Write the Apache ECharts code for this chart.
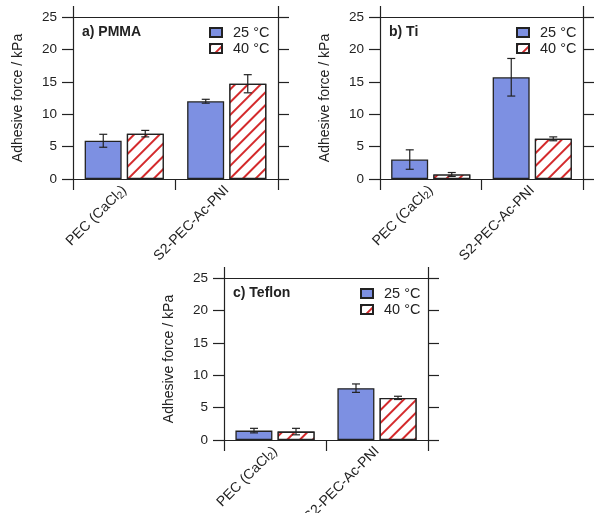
<!DOCTYPE html>
<html>
<head>
<meta charset="utf-8">
<script src="https://cdn.jsdelivr.net/npm/echarts@6/dist/echarts.min.js"></script>
<style>
  html, body { margin: 0; padding: 0; background: #fff; }
  #chart { width: 599px; height: 513px; }
</style>
</head>
<body>
<div id="chart"></div>
<script>
// categories + data
const categories = ["PEC (CaCl{sub|2})", "S2-PEC-Ac-PNI"];
const panelTitles = ["a) PMMA", "b) Ti", "c) Teflon"];
const seriesNames = ["25 °C", "40 °C"];
const yTicks = [0, 5, 10, 15, 20, 25];

// values per panel [PEC, S2]
const pmma25 = [5.9, 12.0];
const pmma25Err = [1.0, 0.3];
const pmma40 = [7.0, 14.7];
const pmma40Err = [0.5, 1.4];

const ti25 = [3.0, 15.7];
const ti25Err = [1.5, 2.9];
const ti40 = [0.7, 6.2];
const ti40Err = [0.3, 0.3];

const teflon25 = [1.45, 8.0];
const teflon25Err = [0.35, 0.65];
const teflon40 = [1.3, 6.5];
const teflon40Err = [0.5, 0.25];

const panels = [
  { v25: pmma25, e25: pmma25Err, v40: pmma40, e40: pmma40Err, grid: { left: 73, top: 17, width: 205, height: 162 } },
  { v25: ti25, e25: ti25Err, v40: ti40, e40: ti40Err, grid: { left: 380, top: 17, width: 203, height: 162 } },
  { v25: teflon25, e25: teflon25Err, v40: teflon40, e40: teflon40Err, grid: { left: 224, top: 278, width: 204, height: 162 } }
];

const BLUE = "#7d90e2";
const RED = "#d42a2c";
const INK = "#222";
const FONT = "Liberation Sans, Arial, sans-serif";
const BAR_W = 37;
const SHIFT = 21;   // half of bar width + gap

const hatch = {
  symbol: "rect",
  symbolSize: 1,
  dashArrayX: [1, 0],
  dashArrayY: [2, 7],
  rotation: -Math.PI / 4,
  color: RED,
  backgroundColor: "#fff"
};

const chart = echarts.init(document.getElementById("chart"), null, { renderer: "canvas" });

function errSeries(name, gi, vals, errs, dx) {
  return {
    type: "custom",
    name: name + " err",
    xAxisIndex: gi * 2,
    yAxisIndex: gi * 2,
    z: 5,
    silent: true,
    data: vals.map((v, i) => [i, v - errs[i], v + errs[i]]),
    encode: { x: 0, y: [1, 2] },
    renderItem: (params, api) => {
      const lo = api.coord([api.value(0), api.value(1)]);
      const hi = api.coord([api.value(0), api.value(2)]);
      const x = lo[0] + dx;
      const cap = 4;
      const st = { stroke: INK, lineWidth: 1.2 };
      return {
        type: "group",
        children: [
          { type: "line", shape: { x1: x, y1: lo[1], x2: x, y2: hi[1] }, style: st },
          { type: "line", shape: { x1: x - cap, y1: lo[1], x2: x + cap, y2: lo[1] }, style: st },
          { type: "line", shape: { x1: x - cap, y1: hi[1], x2: x + cap, y2: hi[1] }, style: st }
        ]
      };
    }
  };
}

const grid = [], xAxis = [], yAxis = [], series = [], legend = [], title = [];

panels.forEach((p, gi) => {
  grid.push(Object.assign({ containLabel: false, outerBoundsMode: "none" }, p.grid));

  const tickStyle = { show: true, inside: false, length: 11, lineStyle: { color: INK, width: 1.2 } };
  const lineStyle = { show: true, onZero: false, lineStyle: { color: INK, width: 1.2 } };

  xAxis.push({
    type: "category", gridIndex: gi, data: categories, position: "bottom",
    boundaryGap: true,
    axisLine: lineStyle, axisTick: tickStyle,
    axisLabel: {
      interval: 0, rotate: 45, margin: 9, color: INK, fontFamily: FONT, fontSize: 14,
      rich: { sub: { fontSize: 10, fontFamily: FONT, color: INK, verticalAlign: "bottom", padding: [6, 0, 0, 0] } }
    }
  });
  xAxis.push({
    type: "category", gridIndex: gi, data: categories, position: "top",
    boundaryGap: true,
    axisLine: lineStyle, axisTick: tickStyle, axisLabel: { show: false }
  });

  yAxis.push({
    type: "value", gridIndex: gi, min: yTicks[0], max: yTicks[yTicks.length - 1], interval: 5,
    position: "left",
    name: "Adhesive force / kPa", nameLocation: "middle", nameGap: 48,
    nameTextStyle: { color: INK, fontFamily: FONT, fontSize: 14 },
    axisLine: lineStyle, axisTick: tickStyle, splitLine: { show: false },
    axisLabel: { margin: 16, color: INK, fontFamily: FONT, fontSize: 13.5 }
  });
  yAxis.push({
    type: "value", gridIndex: gi, min: yTicks[0], max: yTicks[yTicks.length - 1], interval: 5,
    position: "right",
    axisLine: lineStyle, axisTick: tickStyle, splitLine: { show: false },
    axisLabel: { show: false }
  });

  series.push({
    type: "bar", name: seriesNames[0], xAxisIndex: gi * 2, yAxisIndex: gi * 2,
    data: p.v25, barWidth: BAR_W, barGap: "14%",
    itemStyle: { color: BLUE, borderColor: INK, borderWidth: 1.3 }
  });
  series.push({
    type: "bar", name: seriesNames[1], xAxisIndex: gi * 2, yAxisIndex: gi * 2,
    data: p.v40, barWidth: BAR_W, barGap: "14%",
    itemStyle: { color: "#fff", borderColor: INK, borderWidth: 1.3, decal: hatch }
  });
  series.push(errSeries(seriesNames[0], gi, p.v25, p.e25, -SHIFT));
  series.push(errSeries(seriesNames[1], gi, p.v40, p.e40, SHIFT));

  const g = p.grid;
  legend.push({
    orient: "vertical", left: g.left + 136, top: g.top + 8,
    data: seriesNames, itemWidth: 12, itemHeight: 9, itemGap: 1, padding: 0,
    icon: "rect", selectedMode: false,
    textStyle: { color: INK, fontFamily: FONT, fontSize: 14.5, padding: [0, 0, 0, 6] }
  });
  title.push({
    text: panelTitles[gi], left: g.left + 9, top: g.top + 8, padding: 0,
    textStyle: { color: INK, fontFamily: FONT, fontSize: 14, fontWeight: "bold" }
  });
});

chart.setOption({
  animation: false,
  backgroundColor: "#fff",
  textStyle: { fontFamily: FONT },
  title, legend, grid, xAxis, yAxis, series
});
</script>
</body>
</html>
